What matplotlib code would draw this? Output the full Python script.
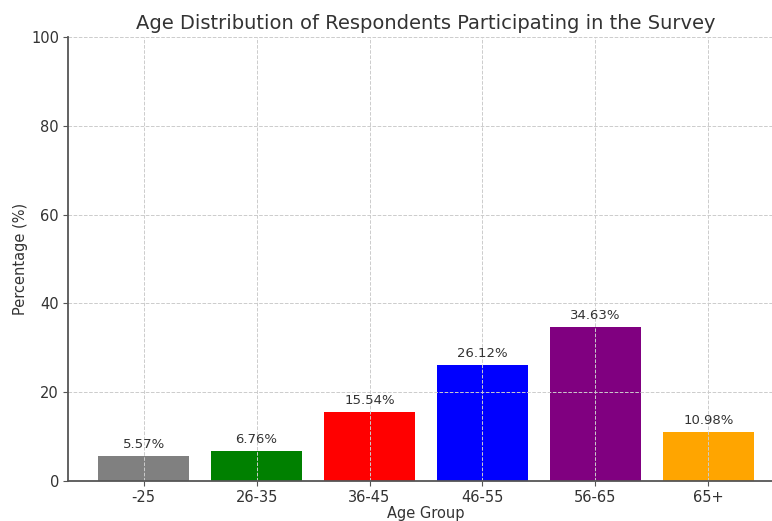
import matplotlib
matplotlib.use("Agg")
import matplotlib.pyplot as plt

age_groups = ["-25", "26-35", "36-45", "46-55", "56-65", "65+"]
percentages = [5.57, 6.76, 15.54, 26.12, 34.63, 10.98]
bar_colors = ["grey", "green", "red", "blue", "purple", "orange"]

plt.rcParams["font.family"] = "DejaVu Sans"
text_color = "#333333"

fig = plt.figure(figsize=(7.72, 5.21), dpi=100)
ax = fig.add_axes([68 / 772, 40 / 521, 716 / 772, 444 / 521])

bars = ax.bar(age_groups, percentages, color=bar_colors, width=0.8)
for rect, val in zip(bars, percentages):
    ax.text(rect.get_x() + rect.get_width() / 2, val + 1.2, f"{val:.2f}%",
            ha="center", va="bottom", fontsize=9.5, color=text_color)

ax.set_ylim(0, 100)
ax.set_xlim(-0.67, 5.67)
ax.set_yticks([0, 20, 40, 60, 80, 100])
ax.grid(True, linestyle="--", color="#cccccc", linewidth=0.7)

for side in ("top", "right"):
    ax.spines[side].set_visible(False)
for side in ("left", "bottom"):
    ax.spines[side].set_color("#555555")
    ax.spines[side].set_linewidth(1.3)

ax.tick_params(axis="both", labelsize=10.5, colors=text_color, pad=3)
ax.tick_params(axis="both", color="#555555")

ax.set_title("Age Distribution of Respondents Participating in the Survey",
             fontsize=14, color=text_color, pad=6)
ax.set_xlabel("Age Group", fontsize=10.5, color=text_color, labelpad=1)
ax.set_ylabel("Percentage (%)", fontsize=10.5, color=text_color, labelpad=2)

fig.savefig("out.png", dpi=100)
